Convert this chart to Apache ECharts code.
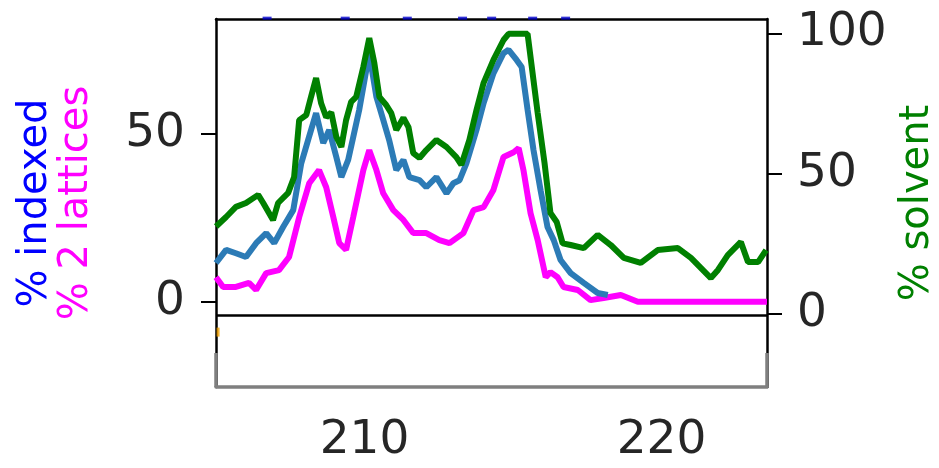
<!DOCTYPE html>
<html>
<head>
<meta charset="utf-8">
<script src="https://cdn.jsdelivr.net/npm/echarts@6/dist/echarts.min.js"></script>
<style>html,body{margin:0;padding:0;background:#fff;overflow:hidden}#c{width:939px;height:468px}</style>
</head>
<body>
<div id="c"></div>
<script>
// x positions and values
const solventX = [205.00,205.34,205.67,206.01,206.42,206.59,206.92,207.09,207.43,207.63,207.80,208.04,208.20,208.37,208.54,208.71,208.88,209.05,209.22,209.38,209.55,209.72,209.96,210.16,210.33,210.50,210.73,210.90,211.07,211.31,211.48,211.64,211.85,212.08,212.42,212.76,213.09,213.26,213.53,213.77,214.01,214.34,214.68,214.85,215.49,215.83,216.06,216.26,216.47,216.67,216.94,217.38,217.85,218.29,218.73,219.30,219.87,220.55,220.99,221.66,221.90,222.23,222.67,222.91,223.25,223.52];
const solventY = [31.0,34.4,38.0,39.4,42.3,39.4,33.3,39.4,43.0,48.7,69.0,70.8,77.3,84.0,75.0,70.0,71.8,63.0,59.4,69.0,75.5,77.3,88.0,98.3,89.4,77.3,74.4,71.5,65.5,69.8,66.5,57.2,55.5,58.3,61.9,59.4,55.8,53.0,61.9,72.6,82.3,90.5,97.6,99.8,99.8,71.5,53.7,35.8,32.6,25.0,24.4,23.3,28.0,24.4,19.8,18.0,22.6,23.3,19.8,12.6,15.5,20.8,25.5,18.3,18.3,22.6];

const indexedX = [205.00,205.34,205.67,206.01,206.35,206.69,206.96,207.26,207.60,207.87,208.10,208.37,208.61,208.81,209.05,209.22,209.45,209.62,209.82,210.16,210.40,210.63,210.83,211.07,211.31,211.51,211.85,212.08,212.42,212.76,212.99,213.20,213.43,213.77,214.01,214.34,214.68,214.85,215.12,215.29,215.49,215.69,215.93,216.16,216.37,216.60,216.94,217.38,217.85,218.19];
const indexedY = [11.5,15.4,14.4,13.3,17.4,20.4,17.4,22.2,27.2,41.1,48.0,56.0,47.1,51.0,43.0,37.0,42.1,48.9,56.9,73.8,60.8,54.0,48.0,39.1,42.1,37.0,36.1,34.0,37.0,32.2,35.2,36.1,41.1,51.0,59.0,67.8,73.8,74.8,71.8,69.7,57.0,45.0,33.0,22.2,18.3,12.4,8.5,5.6,2.6,2.0];

const latticeX = [205.00,205.24,205.67,206.11,206.35,206.69,207.12,207.46,207.80,208.14,208.47,208.71,208.95,209.15,209.38,209.62,209.96,210.16,210.40,210.63,210.97,211.31,211.64,212.08,212.52,212.86,213.33,213.67,214.01,214.34,214.68,215.02,215.19,215.35,215.59,215.83,216.10,216.26,216.50,216.70,217.18,217.61,218.05,218.63,219.20,223.55];
const latticeY = [7.3,4.4,4.4,5.6,3.5,8.5,9.4,13.3,25.1,35.2,39.1,34.0,25.1,17.4,15.4,25.1,39.1,45.0,39.1,32.2,27.2,24.3,20.4,20.4,18.3,17.4,20.4,27.2,28.1,33.2,43.0,44.4,45.6,39.1,26.3,18.3,7.3,8.8,7.3,4.4,3.5,0.5,1.1,2.0,0.0,0.0];

// clipped dark-blue markers along the top edge
const topDotsX = [206.72,209.35,211.44,213.30,214.28,215.66,216.77];
const topDotsY = [84.2,84.2,84.2,84.2,84.2,84.2,84.2];

const xTicks = [210, 220];
const leftTicks = [0, 50];
const rightTicks = [0, 50, 100];

const zip = (a, b) => a.map((v, i) => [v, b[i]]);
const FONT = 'DejaVu Sans';
const TXT = '#262626';

const chart = echarts.init(document.getElementById('c'), null, {renderer: 'canvas'});
chart.setOption({
  animation: false,
  backgroundColor: '#ffffff',
  grid: {left: 216, right: 172, top: 19, bottom: 81, containLabel: false, outerBoundsMode: 'none'},
  xAxis: [
    {type: 'value', min: 205, max: 223.55, position: 'bottom',
     axisLine: {show: true, onZero: false, lineStyle: {color: '#7f7f7f', width: 3.5}},
     axisTick: {show: false}, splitLine: {show: false},
     axisLabel: {customValues: xTicks, fontSize: 47, fontFamily: FONT, color: TXT, margin: 30}},
    {type: 'value', min: 205, max: 223.55, position: 'top',
     axisLine: {show: true, onZero: false, lineStyle: {color: '#000', width: 2.5}},
     axisTick: {show: false}, axisLabel: {show: false}, splitLine: {show: false}}
  ],
  yAxis: [
    {type: 'value', min: -25.3, max: 83.95, position: 'left',
     axisLine: {show: true, onZero: false, lineStyle: {color: '#000', width: 2.5}},
     axisTick: {show: true, customValues: leftTicks, length: 15, lineStyle: {color: '#000', width: 2}},
     axisLabel: {customValues: leftTicks, fontSize: 47, fontFamily: FONT, color: TXT, margin: 31},
     splitLine: {show: false},
     name: '% indexed', nameLocation: 'middle', nameGap: 160,
     nameTextStyle: {color: '#0000ff', fontSize: 40, fontFamily: FONT}},
    {type: 'value', min: -25.3, max: 83.95, position: 'left',
     axisLine: {show: false, onZero: false}, axisTick: {show: false}, axisLabel: {show: false}, splitLine: {show: false},
     name: '% 2 lattices', nameLocation: 'middle', nameGap: 119,
     nameTextStyle: {color: '#ff00ff', fontSize: 40, fontFamily: FONT}},
    {type: 'value', min: -26.3, max: 105.1, position: 'right',
     axisLine: {show: true, onZero: false, lineStyle: {color: '#000', width: 2.5}},
     axisTick: {show: true, customValues: rightTicks, length: 15, lineStyle: {color: '#000', width: 2}},
     axisLabel: {customValues: rightTicks, fontSize: 47, fontFamily: FONT, color: TXT, margin: 30},
     splitLine: {show: false},
     name: '% solvent', nameLocation: 'middle', nameGap: 128,
     nameTextStyle: {color: '#008000', fontSize: 40, fontFamily: FONT}}
  ],
  series: [
    {type: 'line', name: '% 2 lattices', xAxisIndex: 0, yAxisIndex: 1, data: zip(latticeX, latticeY),
     showSymbol: false, lineStyle: {color: '#ff00ff', width: 6}, itemStyle: {color: '#ff00ff'}, z: 3},
    {type: 'line', name: '% indexed', xAxisIndex: 0, yAxisIndex: 0, data: zip(indexedX, indexedY),
     showSymbol: false, lineStyle: {color: '#2c7bb6', width: 6}, itemStyle: {color: '#2c7bb6'}, z: 4},
    {type: 'line', name: '% solvent', xAxisIndex: 0, yAxisIndex: 2, data: zip(solventX, solventY),
     showSymbol: false, lineStyle: {color: '#008000', width: 6}, itemStyle: {color: '#008000'}, z: 5,
     markLine: {silent: true, symbol: 'none', label: {show: false},
       lineStyle: {color: '#000', width: 2.5, type: 'solid'}, data: [{yAxis: -0.6}]}},
    {type: 'scatter', xAxisIndex: 0, yAxisIndex: 0, data: zip(topDotsX, topDotsY), clip: false,
     symbol: 'rect', symbolSize: [9, 3], itemStyle: {color: '#0000cc'}, z: 6, silent: true},
    {type: 'scatter', xAxisIndex: 0, yAxisIndex: 0, data: [[205.07, -9]], clip: false,
     symbol: 'rect', symbolSize: [3, 9], itemStyle: {color: '#f0a000'}, z: 6, silent: true}
  ],
  graphic: [
    {type: 'line', shape: {x1: 216, y1: 353, x2: 216, y2: 387}, style: {stroke: '#7f7f7f', lineWidth: 3.5}, z: 100, silent: true},
    {type: 'line', shape: {x1: 767, y1: 353, x2: 767, y2: 387}, style: {stroke: '#7f7f7f', lineWidth: 3.5}, z: 100, silent: true}
  ]
});
</script>
</body>
</html>
